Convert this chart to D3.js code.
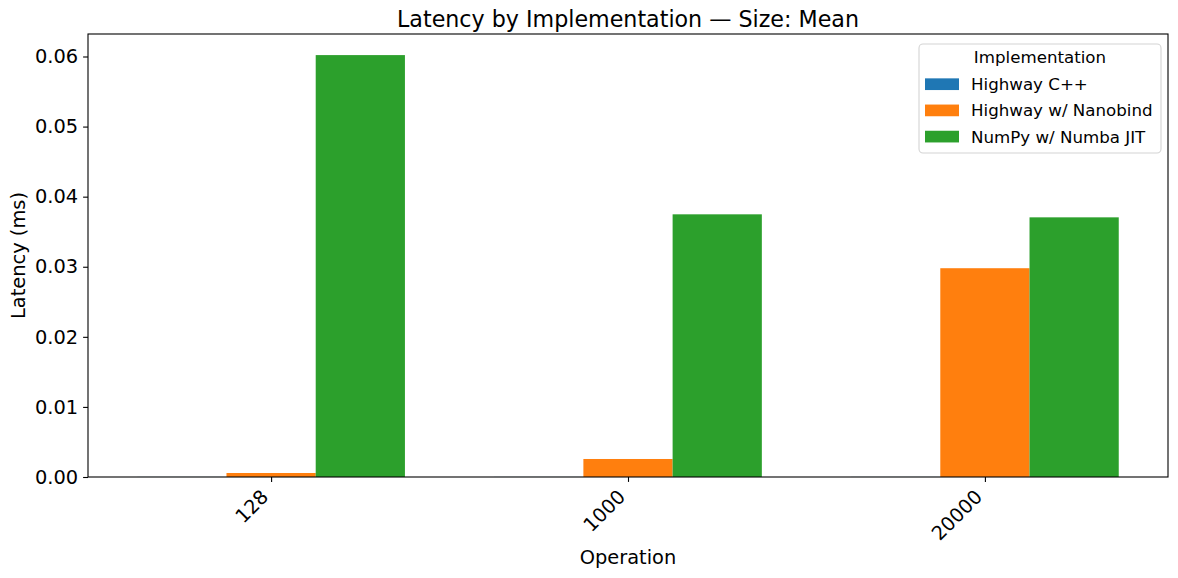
<!DOCTYPE html>
<html>
<head>
<meta charset="utf-8">
<script src="https://cdn.jsdelivr.net/npm/d3@7"></script>
<style>
  html, body { margin: 0; padding: 0; background: #fff; }
  svg { display: block; font-family: "DejaVu Sans", sans-serif; }
</style>
</head>
<body>
<svg id="chart" width="1178" height="578"></svg>
<script>
const categories = ["128", "1000", "20000"];
const seriesNames = ["Highway C++", "Highway w/ Nanobind", "NumPy w/ Numba JIT"];
const highwayCpp = [0.00001, 0.00001, 0.00001];
const highwayNanobind = [0.00057, 0.00257, 0.02979];
const numpyNumba = [0.0602, 0.03748, 0.03705];
const seriesValues = [highwayCpp, highwayNanobind, numpyNumba];
const colors = ["#1f77b4", "#ff7f0e", "#2ca02c"];
const yTicks = [0, 0.01, 0.02, 0.03, 0.04, 0.05, 0.06];

const svg = d3.select("#chart");
const mLeft = 88, mRight = 1168, mTop = 34, mBottom = 477;

const x = d3.scaleLinear().domain([-0.513, categories.length - 1 + 0.513]).range([mLeft, mRight]);
const yMax = d3.max(seriesValues.flat()) * 1.05;
const y = d3.scaleLinear().domain([0, yMax]).range([mBottom, mTop]);

const barW = 0.25;

// bars
seriesValues.forEach((vals, j) => {
  svg.append("g").selectAll("rect").data(vals).join("rect")
    .attr("x", (d, i) => x(i + (j - 1) * barW - barW / 2))
    .attr("width", (d, i) => x(i + (j - 1) * barW + barW / 2) - x(i + (j - 1) * barW - barW / 2))
    .attr("y", d => y(d))
    .attr("height", d => y(0) - y(d))
    .attr("fill", colors[j]);
});

// y axis
const yAxis = svg.append("g")
  .attr("transform", `translate(${mLeft},0)`)
  .call(d3.axisLeft(y).tickValues(yTicks).tickFormat(d3.format(".2f")).tickSize(4.9).tickPadding(4.9));
yAxis.select(".domain").remove();
yAxis.selectAll("line").attr("stroke", "#000").attr("stroke-width", 1.1);
yAxis.selectAll("text").attr("font-size", "19.4px").attr("fill", "#000")
  .attr("font-family", "DejaVu Sans");

// x axis
const xAxis = svg.append("g")
  .attr("transform", `translate(0,${mBottom})`)
  .call(d3.axisBottom(x).tickValues(d3.range(categories.length)).tickFormat(i => categories[i]).tickSize(4.9));
xAxis.select(".domain").remove();
xAxis.selectAll("line").attr("stroke", "#000").attr("stroke-width", 1.1);
xAxis.selectAll("text")
  .attr("font-size", "19.4px").attr("fill", "#000").attr("font-family", "DejaVu Sans")
  .attr("text-anchor", "end")
  .attr("dy", null)
  .attr("y", 0)
  .attr("transform", "translate(-2,21) rotate(-45)");

// frame
svg.append("rect")
  .attr("x", mLeft).attr("y", mTop)
  .attr("width", mRight - mLeft).attr("height", mBottom - mTop)
  .attr("fill", "none").attr("stroke", "#000").attr("stroke-width", 1.1);

// title
svg.append("text")
  .attr("x", (mLeft + mRight) / 2).attr("y", 27)
  .attr("text-anchor", "middle").attr("font-size", "22.2px")
  .text("Latency by Implementation — Size: Mean");

// axis labels
svg.append("text")
  .attr("x", (mLeft + mRight) / 2).attr("y", 564.3)
  .attr("text-anchor", "middle").attr("font-size", "19.4px")
  .text("Operation");
svg.append("text")
  .attr("transform", `translate(24.5,${(mTop + mBottom) / 2}) rotate(-90)`)
  .attr("text-anchor", "middle").attr("font-size", "19.4px")
  .text("Latency (ms)");

// legend
const lg = svg.append("g");
lg.append("rect")
  .attr("x", 919).attr("y", 44).attr("width", 242).attr("height", 109)
  .attr("rx", 4).attr("fill", "#fff").attr("fill-opacity", 0.8)
  .attr("stroke", "#d4d4d4").attr("stroke-width", 1.1);
lg.append("text")
  .attr("x", 1040).attr("y", 63.3).attr("text-anchor", "middle")
  .attr("font-size", "16.67px").text("Implementation");
seriesNames.forEach((name, j) => {
  const cy = 84.2 + j * 26.2;
  lg.append("rect")
    .attr("x", 925).attr("y", cy - 5.85).attr("width", 34).attr("height", 11.7)
    .attr("fill", colors[j]);
  lg.append("text")
    .attr("x", 971).attr("y", cy + 5.9)
    .attr("font-size", "16.67px").text(name);
});
</script>
</body>
</html>
